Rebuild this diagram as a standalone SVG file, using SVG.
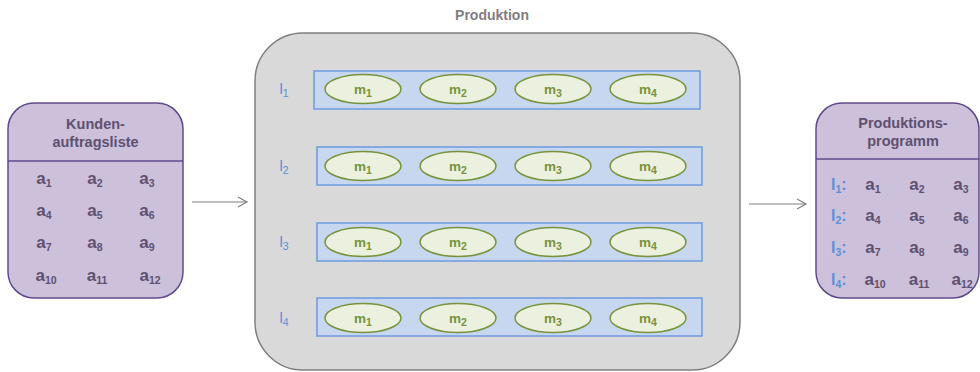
<svg xmlns="http://www.w3.org/2000/svg" width="980" height="372" viewBox="0 0 980 372">
<style>
.box{fill:#ccc0da;stroke:#5f4b8b;stroke-width:1.5}
.div{stroke:#5f4b8b;stroke-width:1.5}
.title{font-family:"Liberation Sans",Arial,sans-serif;font-weight:bold;font-size:14.5px;fill:#5f5070;text-anchor:middle}
.a{font-family:"Liberation Sans",Arial,sans-serif;font-weight:bold;font-size:17px;fill:#5f5070;text-anchor:middle}
.sub{font-size:10.5px}
.lane{fill:#c6d7ef;stroke:#6c9be0;stroke-width:1.5}
.m{fill:#ebf1de;stroke:#77933c;stroke-width:1.5}
.mt{font-family:"Liberation Sans",Arial,sans-serif;font-weight:bold;font-size:13.5px;fill:#77933c;text-anchor:middle}
.l{font-family:"Liberation Sans",Arial,sans-serif;font-size:15px;fill:#5b8fd9;text-anchor:middle}
.lb{font-family:"Liberation Sans",Arial,sans-serif;font-weight:bold;font-size:16px;fill:#5b8fd9}
.conn{stroke:#7f7f7f;stroke-width:1.2;fill:none}
</style>
<defs>
<marker id="arr" markerWidth="12" markerHeight="12" refX="10" refY="6" orient="auto" markerUnits="userSpaceOnUse">
<path d="M1,1 L10,6 L1,11" fill="none" stroke="#7f7f7f" stroke-width="1.2"/>
</marker>
<g id="mrow">
<ellipse class="m" cx="363" cy="0" rx="38" ry="14.5"/>
<text class="mt" x="363" y="5">m<tspan class="sub" dy="3">1</tspan></text>
<ellipse class="m" cx="458" cy="0" rx="38" ry="14.5"/>
<text class="mt" x="458" y="5">m<tspan class="sub" dy="3">2</tspan></text>
<ellipse class="m" cx="553" cy="0" rx="38" ry="14.5"/>
<text class="mt" x="553" y="5">m<tspan class="sub" dy="3">3</tspan></text>
<ellipse class="m" cx="648" cy="0" rx="38" ry="14.5"/>
<text class="mt" x="648" y="5">m<tspan class="sub" dy="3">4</tspan></text>
</g>
</defs>

<g id="kundenauftragsliste">
<rect class="box" x="8" y="103" width="175" height="195" rx="26"/>
<line class="div" x1="8" y1="161" x2="183" y2="161"/>
<text class="title" x="95.5" y="129">Kunden-</text>
<text class="title" x="95.5" y="147">auftragsliste</text>
<g class="a">
<text x="44" y="184">a<tspan class="sub" dy="3">1</tspan></text>
<text x="95" y="184">a<tspan class="sub" dy="3">2</tspan></text>
<text x="147" y="184">a<tspan class="sub" dy="3">3</tspan></text>
<text x="44" y="216">a<tspan class="sub" dy="3">4</tspan></text>
<text x="95" y="216">a<tspan class="sub" dy="3">5</tspan></text>
<text x="147" y="216">a<tspan class="sub" dy="3">6</tspan></text>
<text x="44" y="248">a<tspan class="sub" dy="3">7</tspan></text>
<text x="95" y="248">a<tspan class="sub" dy="3">8</tspan></text>
<text x="147" y="248">a<tspan class="sub" dy="3">9</tspan></text>
<text x="46" y="281">a<tspan class="sub" dy="3">10</tspan></text>
<text x="97" y="281">a<tspan class="sub" dy="3">11</tspan></text>
<text x="150" y="281">a<tspan class="sub" dy="3">12</tspan></text>
</g>
</g>

<g id="produktion">
<text x="492" y="20" font-family="Liberation Sans, Arial, sans-serif" font-weight="bold" font-size="14" fill="#7f7f7f" text-anchor="middle">Produktion</text>
<rect x="255" y="33" width="485" height="337" rx="48" fill="#d9d9d9" stroke="#7f7f7f" stroke-width="1.5"/>
</g>

<g id="linie1">
<rect class="lane" x="314" y="71" width="386" height="38"/>
<use href="#mrow" y="89"/>
<text class="l" x="284" y="94">l<tspan class="sub" dy="3">1</tspan></text>
</g>
<g id="linie2">
<rect class="lane" x="317" y="147" width="385" height="38"/>
<use href="#mrow" y="166"/>
<text class="l" x="284" y="171">l<tspan class="sub" dy="3">2</tspan></text>
</g>
<g id="linie3">
<rect class="lane" x="317" y="223" width="385" height="38"/>
<use href="#mrow" y="242"/>
<text class="l" x="284" y="247">l<tspan class="sub" dy="3">3</tspan></text>
</g>
<g id="linie4">
<rect class="lane" x="317" y="298" width="385" height="38"/>
<use href="#mrow" y="318"/>
<text class="l" x="284" y="323">l<tspan class="sub" dy="3">4</tspan></text>
</g>

<g id="produktionsprogramm">
<rect class="box" x="816" y="103" width="163" height="195" rx="26"/>
<line class="div" x1="816" y1="159" x2="979" y2="159"/>
<text class="title" x="903" y="128">Produktions-</text>
<text class="title" x="903" y="146">programm</text>
<text class="lb" x="831" y="190">l<tspan class="sub" dy="3">1</tspan><tspan dy="-3">:</tspan></text>
<text class="lb" x="831" y="221">l<tspan class="sub" dy="3">2</tspan><tspan dy="-3">:</tspan></text>
<text class="lb" x="831" y="253">l<tspan class="sub" dy="3">3</tspan><tspan dy="-3">:</tspan></text>
<text class="lb" x="831" y="285">l<tspan class="sub" dy="3">4</tspan><tspan dy="-3">:</tspan></text>
<g class="a">
<text x="873" y="190">a<tspan class="sub" dy="3">1</tspan></text>
<text x="917" y="190">a<tspan class="sub" dy="3">2</tspan></text>
<text x="961" y="190">a<tspan class="sub" dy="3">3</tspan></text>
<text x="873" y="221">a<tspan class="sub" dy="3">4</tspan></text>
<text x="917" y="221">a<tspan class="sub" dy="3">5</tspan></text>
<text x="961" y="221">a<tspan class="sub" dy="3">6</tspan></text>
<text x="873" y="253">a<tspan class="sub" dy="3">7</tspan></text>
<text x="917" y="253">a<tspan class="sub" dy="3">8</tspan></text>
<text x="961" y="253">a<tspan class="sub" dy="3">9</tspan></text>
<text x="875" y="285">a<tspan class="sub" dy="3">10</tspan></text>
<text x="919" y="285">a<tspan class="sub" dy="3">11</tspan></text>
<text x="962" y="285">a<tspan class="sub" dy="3">12</tspan></text>
</g>
</g>

<g id="connectors">
<line class="conn" x1="192" y1="202" x2="247" y2="202" marker-end="url(#arr)"/>
<line class="conn" x1="749" y1="204" x2="806" y2="204" marker-end="url(#arr)"/>
</g>
</svg>
